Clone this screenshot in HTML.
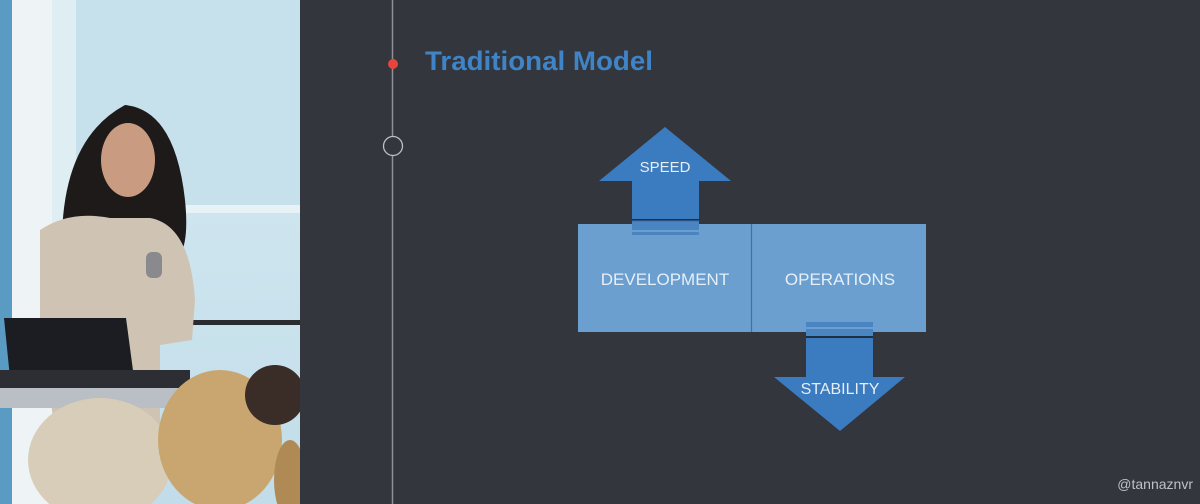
<!DOCTYPE html>
<html><head><style>
html,body{margin:0;padding:0;width:1200px;height:504px;overflow:hidden;background:#33363d}
svg{display:block}
text{font-family:"Liberation Sans",sans-serif}
</style></head><body>
<svg width="1200" height="504" viewBox="0 0 1200 504">
<defs>
<linearGradient id="win" x1="0" y1="0" x2="0" y2="1">
<stop offset="0" stop-color="#d6ebf3"/><stop offset="1" stop-color="#c2dde9"/>
</linearGradient>
<clipPath id="ph"><rect x="0" y="0" width="300" height="504"/></clipPath>
</defs>
<rect x="0" y="0" width="1200" height="504" fill="#33363d"/>
<g clip-path="url(#ph)">
<rect x="0" y="0" width="300" height="504" fill="url(#win)"/>
<rect x="0" y="0" width="12" height="504" fill="#5a9bc4"/>
<rect x="12" y="0" width="40" height="504" fill="#eef4f6"/>
<rect x="52" y="0" width="24" height="504" fill="#dfeef3"/>
<rect x="76" y="0" width="224" height="210" fill="#c7e1ec"/>
<rect x="180" y="205" width="120" height="8" fill="#e8f2f6"/>
<rect x="190" y="320" width="110" height="5" fill="#2a2c30"/>
<path d="M62 250 Q60 140 125 105 Q175 110 185 200 Q190 250 175 260 L70 262Z" fill="#1e1a1a"/>
<ellipse cx="128" cy="160" rx="27" ry="37" fill="#c99c82"/>
<path d="M40 230 Q70 210 110 218 L150 218 Q190 225 195 300 L192 340 L160 345 L160 430 L55 430 L40 330Z" fill="#cfc3b3"/>
<rect x="146" y="252" width="16" height="26" rx="6" fill="#8a8a8e"/>
<polygon points="4,318 126,318 134,378 10,378" fill="#1c1d22"/>
<rect x="0" y="370" width="190" height="18" fill="#2d2e33"/>
<rect x="0" y="388" width="190" height="20" fill="#b9bfc4"/>
<ellipse cx="100" cy="460" rx="72" ry="62" fill="#d8cdb8"/>
<ellipse cx="220" cy="440" rx="62" ry="70" fill="#c9a670"/>
<ellipse cx="275" cy="395" rx="30" ry="30" fill="#3a2c26"/>
<ellipse cx="290" cy="480" rx="16" ry="40" fill="#b08a55"/>
</g>
<line x1="392.5" y1="0" x2="392.5" y2="504" stroke="#8f9196" stroke-width="1.5"/>
<circle cx="393" cy="64" r="5" fill="#e5453d"/>
<circle cx="393" cy="146" r="9.5" fill="#33363d" stroke="#bdbfc3" stroke-width="1.3"/>
<text x="425" y="70" font-size="27" font-weight="bold" fill="#3f84c6" textLength="228" lengthAdjust="spacingAndGlyphs">Traditional Model</text>
<rect x="578" y="224" width="348" height="108" fill="#6a9fd0"/>
<line x1="751.5" y1="224" x2="751.5" y2="332" stroke="#4a6f93" stroke-width="1.2"/>
<text x="665" y="285" font-size="17" fill="#e6eef6" text-anchor="middle">DEVELOPMENT</text>
<text x="840" y="285" font-size="17" fill="#e6eef6" text-anchor="middle">OPERATIONS</text>
<polygon points="632,224 632,181 599,181 665,127 731,181 699,181 699,224" fill="#3b7bbf"/>
<rect x="632" y="219" width="67" height="1.5" fill="#1f2e40"/>
<rect x="632" y="222" width="67" height="8" fill="#4a85c2"/>
<rect x="632" y="232" width="67" height="3" fill="#4a85c2"/>
<text x="665" y="172" font-size="15" fill="#e6eef6" text-anchor="middle">SPEED</text>
<rect x="806" y="322" width="67" height="5" fill="#4a85c2"/>
<rect x="806" y="329" width="67" height="8" fill="#4a85c2"/>
<polygon points="806,338 873,338 873,377 905,377 840,431 774,377 806,377" fill="#3b7bbf"/>
<rect x="806" y="336" width="67" height="2" fill="#1f2e40"/>
<text x="840" y="394" font-size="16" fill="#e6eef6" text-anchor="middle">STABILITY</text>
<text x="1193" y="489" font-size="14" fill="#bfc1c5" text-anchor="end">@tannaznvr</text>
</svg>
</body></html>
